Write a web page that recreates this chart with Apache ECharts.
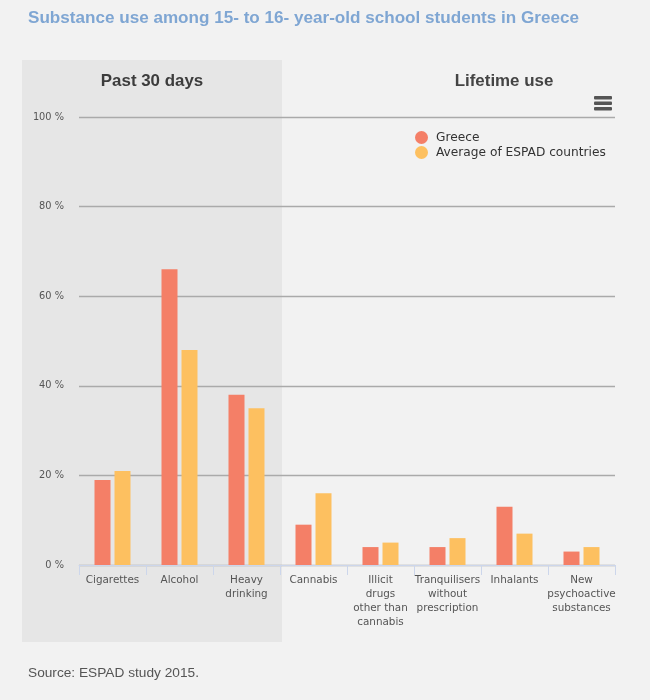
<!DOCTYPE html>
<html><head><meta charset="utf-8">
<style>html,body{margin:0;padding:0;background:#f2f2f2}#c{width:650px;height:700px}</style>
<script src="https://cdn.jsdelivr.net/npm/echarts@6/dist/echarts.min.js"></script>
</head><body><div id="c"></div>
<script>
const categories = ['Cigarettes','Alcohol','Heavy\ndrinking','Cannabis','Illicit\ndrugs\nother than\ncannabis','Tranquilisers\nwithout\nprescription','Inhalants','New\npsychoactive\nsubstances'];
const greece = [19,66,38,9,4,4,13,3];
const espad = [21,48,35,16,5,6,7,4];
const yTicks = [0,20,40,60,80,100];
const chart = echarts.init(document.getElementById('c'), null, {renderer:'canvas'});
const bar = (name,data,color)=>({name,type:'bar',data,barWidth:16,barGap:'25%',itemStyle:{color},z:3});
chart.setOption({
  animation:false,
  backgroundColor:'#f2f2f2',
  textStyle:{fontFamily:'DejaVu Sans'},
  grid:{left:79,right:35,top:117,bottom:135},
  xAxis:{type:'category',data:categories,
    axisLine:{lineStyle:{color:'#ccd6eb',width:1}},
    axisTick:{show:true,alignWithLabel:false,length:10,lineStyle:{color:'#ccd6eb'}},
    axisLabel:{interval:0,color:'#555',fontSize:10.4,lineHeight:14,margin:8,fontFamily:'DejaVu Sans'}},
  yAxis:{type:'value',min:0,max:100,interval:20,
    axisLine:{show:false},axisTick:{show:false},
    splitLine:{lineStyle:{color:'#aaaaaa',width:1.3}},
    axisLabel:{color:'#555',fontSize:9.8,margin:15,padding:[4,0,0,0],formatter:v=>yTicks.includes(v)?v+' %':''}},
  legend:{orient:'vertical',left:410,top:126,itemWidth:13,itemHeight:13,itemGap:2,icon:'circle',
    textStyle:{color:'#333',fontSize:12.2,padding:[0,0,0,3],fontFamily:'DejaVu Sans'},data:['Greece','Average of ESPAD countries']},
  series:[bar('Greece',greece,'#f47f67'),bar('Average of ESPAD countries',espad,'#fdc060')],
  graphic:[
    {type:'rect',z:-1,silent:true,shape:{x:22,y:60,width:260,height:582},style:{fill:'#e6e6e6'}},
    {type:'text',x:28,y:10,style:{text:'Substance use among 15- to 16- year-old school students in Greece',fill:'#7fa6d3',font:'bold 17.1px "Liberation Sans"'}},
    {type:'text',x:152,y:73,style:{text:'Past 30 days',align:'center',fill:'#3c3c3c',font:'bold 16.9px "Liberation Sans"'}},
    {type:'text',x:504,y:73,style:{text:'Lifetime use',align:'center',fill:'#444',font:'bold 16.9px "Liberation Sans"'}},
    {type:'text',x:28,y:666,style:{text:'Source: ESPAD study 2015.',fill:'#555',font:'13.7px "Liberation Sans"'}},
    {type:'rect',shape:{x:594,y:96,width:18,height:3.5,r:1},style:{fill:'#555'}},
    {type:'rect',shape:{x:594,y:101.5,width:18,height:3.5,r:1},style:{fill:'#555'}},
    {type:'rect',shape:{x:594,y:107,width:18,height:3.5,r:1},style:{fill:'#555'}}
  ]
});
</script></body></html>
